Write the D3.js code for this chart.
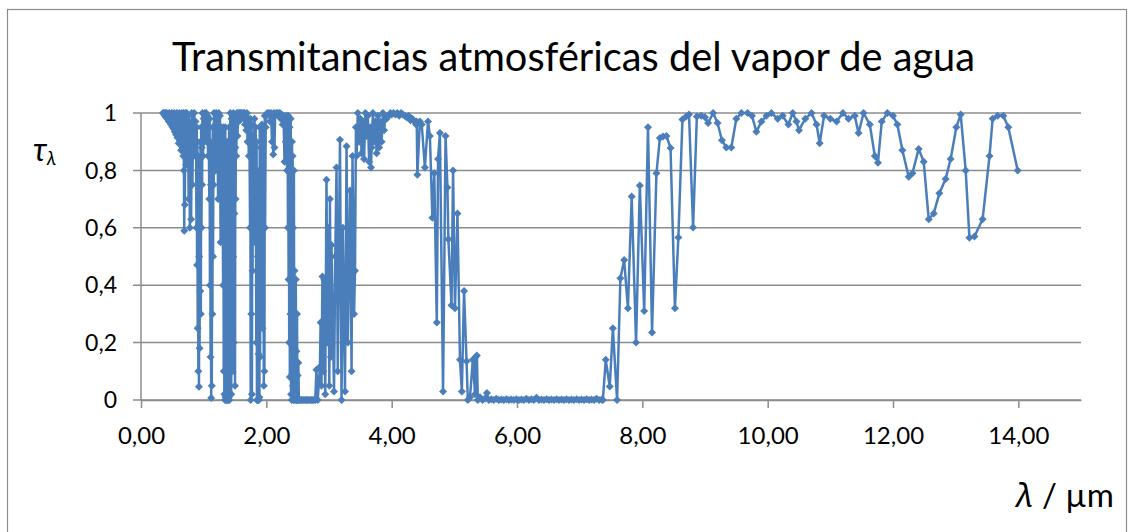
<!DOCTYPE html>
<html>
<head>
<meta charset="utf-8">
<script src="https://cdn.jsdelivr.net/npm/d3@7"></script>
<style>
  body { margin: 0; background: #fff; }
  text { font-family: Lato, "Open Sans", sans-serif; fill: #000; }
</style>
</head>
<body>
<svg id="chart" width="1134" height="532"></svg>
<script>
// Spectral data, [wavelength in µm, transmittance]
const visibleWindow = [
  [0.350,1.000],[0.360,0.998],[0.370,1.000],[0.380,0.990],[0.390,1.000],[0.400,0.985],[0.410,1.000],[0.420,0.980],
  [0.430,0.995],[0.440,0.972],[0.450,1.000],[0.460,0.968],[0.470,0.992],[0.480,0.960],[0.490,1.000],[0.500,0.952],
  [0.510,0.990],[0.520,0.945],[0.530,1.000],[0.540,0.935],[0.550,0.985],[0.560,0.925],[0.570,1.000],[0.580,0.915],
  [0.590,0.990],[0.600,0.895],[0.610,1.000],[0.620,0.905],[0.630,0.975],[0.640,0.870],[0.650,1.000],[0.660,0.880]
];
const band072 = [
  [0.670,0.970],[0.675,0.850],[0.680,1.000],[0.685,0.800],[0.690,0.590],[0.695,0.900],[0.700,0.680],[0.705,0.980],
  [0.710,0.860],[0.715,1.000],[0.720,0.820],[0.725,0.950],[0.730,1.000]
];
const band082 = [
  [0.740,0.900],[0.750,0.990],[0.760,0.700],[0.770,0.970],[0.780,0.600],[0.790,0.920],[0.800,0.630],[0.810,1.000],
  [0.820,0.750],[0.830,0.950],[0.840,0.850],[0.850,1.000],[0.860,0.900],[0.870,0.970]
];
const band094 = [
  [0.880,0.850],[0.885,0.600],[0.890,0.950],[0.895,0.470],[0.900,0.900],[0.905,0.250],[0.910,0.850],[0.915,0.100],
  [0.920,0.700],[0.925,0.046],[0.930,0.500],[0.935,0.180],[0.940,0.800],[0.945,0.380],[0.950,0.900],[0.955,0.300],
  [0.960,0.950],[0.965,0.600],[0.970,0.880],[0.975,0.750],[0.980,1.000],[0.990,0.850]
];
const window104 = [
  [1.000,0.980],[1.010,0.900],[1.020,1.000],[1.030,0.930],[1.040,1.000],[1.050,0.900],[1.060,0.990],[1.070,0.850],
  [1.080,0.950]
];
const band114 = [
  [1.090,0.700],[1.095,0.980],[1.100,0.400],[1.105,0.900],[1.110,0.150],[1.115,0.750],[1.120,0.007],[1.125,0.600],
  [1.130,0.050],[1.135,0.850],[1.140,0.300],[1.145,0.950],[1.150,0.500],[1.155,0.900],[1.160,0.750],[1.165,1.000],
  [1.170,0.850]
];
const window125 = [
  [1.180,0.950],[1.190,0.800],[1.200,1.000],[1.210,0.900],[1.220,0.980],[1.230,0.700],[1.240,1.000],[1.250,0.850],
  [1.260,0.990],[1.270,0.550],[1.280,0.950],[1.290,0.800],[1.300,0.900]
];
const band138 = [
  [1.310,0.400],[1.315,0.950],[1.320,0.100],[1.325,0.880],[1.330,0.020],[1.335,0.700],[1.340,0.000],[1.345,0.950],
  [1.350,0.010],[1.355,0.800],[1.360,0.000],[1.365,0.600],[1.370,0.000],[1.375,0.900],[1.380,0.000],[1.385,0.450],
  [1.390,0.000],[1.395,0.750],[1.400,0.010],[1.405,0.950],[1.410,0.000],[1.415,0.850],[1.420,0.050],[1.425,1.000],
  [1.430,0.200],[1.435,0.900],[1.440,0.020],[1.445,0.980],[1.450,0.300],[1.455,0.950],[1.460,0.100],[1.465,0.900],
  [1.470,0.500],[1.475,1.000],[1.480,0.200],[1.485,0.920],[1.490,0.650],[1.495,0.990],[1.500,0.050],[1.505,0.880],
  [1.510,0.700],[1.515,0.980],[1.520,0.850]
];
const window160 = [
  [1.530,1.000],[1.540,0.920],[1.550,1.000],[1.560,0.970],[1.570,1.000],[1.580,0.990],[1.590,1.000],[1.600,0.985],
  [1.610,1.000],[1.620,0.990],[1.630,1.000],[1.640,0.980],[1.650,1.000],[1.660,0.960],[1.670,0.995],[1.680,0.940],
  [1.690,1.000],[1.700,0.900],[1.710,0.980],[1.720,0.850],[1.730,0.950]
];
const band187 = [
  [1.740,0.600],[1.745,0.980],[1.750,0.000],[1.755,0.900],[1.760,0.300],[1.765,0.960],[1.770,0.020],[1.775,0.850],
  [1.780,0.450],[1.790,0.920],[1.800,0.700],[1.810,0.980],[1.820,0.550],[1.830,0.950],[1.840,0.200],[1.845,0.900],
  [1.850,0.000],[1.855,0.700],[1.860,0.000],[1.865,0.500],[1.870,0.000],[1.875,0.160],[1.880,0.000],[1.885,0.800],
  [1.890,0.010],[1.895,0.950],[1.900,0.150],[1.910,0.880],[1.920,0.400],[1.930,0.960],[1.940,0.250],[1.950,0.900],
  [1.960,0.050],[1.965,0.950],[1.970,0.100],[1.975,0.990],[1.980,0.600],[1.990,0.950]
];
const window220 = [
  [2.000,0.990],[2.015,1.000],[2.030,0.995],[2.045,1.000],[2.060,0.970],[2.075,1.000],[2.090,0.900],[2.100,0.990],
  [2.110,0.855],[2.120,1.000],[2.130,0.880],[2.140,0.990],[2.155,1.000],[2.170,0.995],[2.185,1.000],[2.200,0.990],
  [2.215,1.000],[2.230,0.980],[2.245,0.995],[2.260,0.960],[2.275,0.990],[2.290,0.830],[2.300,0.970],[2.310,0.900],
  [2.320,0.990],[2.330,0.800]
];
const band270 = [
  [2.340,0.950],[2.345,0.600],[2.350,0.990],[2.355,0.420],[2.360,0.900],[2.365,0.200],[2.370,0.950],[2.375,0.080],
  [2.380,0.800],[2.385,0.300],[2.390,0.980],[2.395,0.020],[2.400,0.700],[2.405,0.000],[2.410,0.900],[2.415,0.420],
  [2.420,0.850],[2.425,0.050],[2.430,0.600],[2.435,0.000],[2.440,0.800],[2.445,0.100],[2.450,0.450],[2.455,0.000],
  [2.460,0.300],[2.465,0.020],[2.470,0.420],[2.475,0.000],[2.480,0.170],[2.485,0.000],[2.490,0.300],[2.495,0.000],
  [2.500,0.085],[2.505,0.000],[2.510,0.130],[2.520,0.000],[2.540,0.000],[2.560,0.000],[2.580,0.000],[2.600,0.000],
  [2.620,0.000],[2.640,0.000],[2.660,0.000],[2.680,0.000],[2.700,0.000],[2.720,0.000],[2.740,0.000],[2.760,0.000],
  [2.780,0.000]
];
const band320 = [
  [2.800,0.105],[2.820,0.000],[2.855,0.116],[2.866,0.270],[2.880,0.050],[2.895,0.430],[2.910,0.100],[2.925,0.420],
  [2.940,0.020],[2.960,0.767],[2.975,0.200],[2.990,0.600],[3.005,0.050],[3.015,0.700],[3.030,0.150],[3.040,0.540],
  [3.060,0.300],[3.080,0.030],[3.100,0.500],[3.120,0.810],[3.140,0.100],[3.175,0.907],[3.200,0.000],[3.220,0.600],
  [3.255,0.030],[3.280,0.884],[3.300,0.200],[3.335,0.730],[3.360,0.100],[3.375,0.850],[3.400,0.300],[3.415,0.450],
  [3.430,0.950]
];
const window370 = [
  [3.440,0.850],[3.460,1.000],[3.480,0.900],[3.500,0.980],[3.520,0.860],[3.540,0.970],[3.560,0.840],[3.580,1.000],
  [3.600,0.920],[3.620,0.990],[3.640,0.830],[3.660,0.950],[3.670,0.810],[3.680,0.880],[3.700,1.000],[3.720,0.900],
  [3.740,0.970],[3.760,0.860],[3.780,0.990],[3.800,0.880],[3.820,0.970],[3.840,0.900],[3.860,1.000],[3.880,0.940],
  [3.900,0.990],[3.920,0.980],[3.950,0.990],[3.980,1.000],[4.000,0.995],[4.030,1.000],[4.060,0.995],[4.090,1.000],
  [4.120,0.990],[4.150,1.000],[4.180,0.995],[4.210,0.990],[4.240,0.985],[4.270,0.990],[4.300,0.975],[4.330,0.980],
  [4.360,0.970],[4.390,0.960]
];
const band470 = [
  [4.400,0.970],[4.410,0.785],[4.450,0.970],[4.480,0.960],[4.530,0.810],[4.580,0.970],[4.610,0.920],[4.650,0.635],
  [4.680,0.790],[4.720,0.270],[4.740,0.840],[4.770,0.930],[4.820,0.030],[4.860,0.920],[4.890,0.740],[4.905,0.560],
  [4.955,0.330],[4.980,0.800],[5.010,0.320],[5.050,0.650],[5.090,0.140],[5.120,0.030],[5.155,0.380],[5.195,0.135],
  [5.215,0.000],[5.250,0.010],[5.295,0.140],[5.330,0.020],[5.340,0.150],[5.360,0.155],[5.375,0.000],[5.410,0.010]
];
const band630 = [
  [5.450,0.000],[5.490,0.005],[5.520,0.024],[5.550,0.000],[5.590,0.003],[5.630,0.000],[5.670,0.004],[5.710,0.000],
  [5.750,0.002],[5.790,0.000],[5.830,0.003],[5.870,0.000],[5.910,0.002],[5.950,0.000],[5.990,0.003],[6.030,0.000],
  [6.070,0.002],[6.110,0.000],[6.150,0.004],[6.190,0.000],[6.230,0.003],[6.270,0.000],[6.310,0.008],[6.350,0.000],
  [6.390,0.002],[6.430,0.000],[6.470,0.003],[6.510,0.000],[6.550,0.002],[6.590,0.000],[6.630,0.003],[6.670,0.000],
  [6.710,0.002],[6.750,0.000],[6.790,0.003],[6.830,0.000],[6.870,0.002],[6.910,0.000],[6.950,0.003],[6.990,0.000],
  [7.030,0.002],[7.070,0.000],[7.110,0.003],[7.150,0.000],[7.190,0.002],[7.230,0.000],[7.270,0.004],[7.310,0.000],
  [7.350,0.002],[7.370,0.000]
];
const window8to9 = [
  [7.416,0.140],[7.480,0.047],[7.530,0.250],[7.597,0.000],[7.650,0.424],[7.710,0.488],[7.770,0.320],[7.830,0.709],
  [7.900,0.200],[7.960,0.747],[8.030,0.310],[8.090,0.950],[8.155,0.235],[8.225,0.790],[8.280,0.913],[8.330,0.918],
  [8.385,0.920],[8.450,0.878],[8.520,0.320],[8.575,0.566],[8.640,0.977],[8.700,0.988],[8.745,0.995],[8.810,0.601],
  [8.870,0.988],[8.940,0.990],[9.000,0.985],[9.050,0.965],[9.130,1.000],[9.200,0.965],[9.270,0.905],[9.340,0.880]
];
const window9to14 = [
  [9.420,0.880],[9.500,0.980],[9.580,1.000],[9.680,1.000],[9.750,0.990],[9.820,0.935],[9.900,0.970],[9.980,0.990],
  [10.060,1.000],[10.160,0.980],[10.240,0.990],[10.330,0.960],[10.400,1.000],[10.460,0.970],[10.500,0.940],
  [10.600,0.980],[10.700,1.000],[10.780,0.960],[10.830,0.895],[10.900,0.990],[11.000,0.980],[11.100,0.970],
  [11.200,1.000],[11.290,0.980],[11.390,0.990],[11.450,0.930],[11.530,1.000],[11.630,0.960],[11.710,0.850],
  [11.760,0.827],[11.820,0.970],[11.910,1.000],[12.000,0.990],[12.070,0.960],[12.150,0.870],[12.250,0.778],
  [12.310,0.790],[12.410,0.875],[12.490,0.830],[12.570,0.630],[12.650,0.650],[12.740,0.720],[12.840,0.770],
  [12.920,0.840],[13.010,0.950],[13.080,0.995],[13.160,0.800],[13.220,0.565],[13.300,0.570],[13.430,0.630],
  [13.540,0.850],[13.590,0.980],[13.670,0.990],[13.760,0.990],[13.840,0.950],[13.990,0.800]
];

const spectrum = [].concat(visibleWindow, band072, band082, band094, window104, band114, window125, band138,
  window160, band187, window220, band270, band320, window370, band470, band630, window8to9, window9to14);

const xTicks = [0, 2, 4, 6, 8, 10, 12, 14];
const yTicks = [0, 0.2, 0.4, 0.6, 0.8, 1];
const chartTitle = "Transmitancias atmosféricas del vapor de agua";

const svg = d3.select("#chart");
const blue = "#4A7EBB";
const gridColor = "#8C8C8C";

const x = d3.scaleLinear().domain([0, 15]).range([141, 1081]);
const y = d3.scaleLinear().domain([0, 1]).range([400, 113]);
const comma = s => s.replace(".", ",");

// outer chart border
svg.append("rect")
  .attr("x", 7.5).attr("y", 9.5)
  .attr("width", 1119).attr("height", 540)
  .attr("fill", "none")
  .attr("stroke", gridColor)
  .attr("stroke-width", 1.2);

// title
svg.append("text")
  .attr("x", 172).attr("y", 71)
  .attr("font-size", 40)
  .attr("textLength", 803)
  .attr("lengthAdjust", "spacingAndGlyphs")
  .text(chartTitle);

// horizontal gridlines (they also act as the y tick marks)
svg.append("g").selectAll("line")
  .data(yTicks)
  .enter().append("line")
  .attr("x1", 133).attr("x2", x(15))
  .attr("y1", d => y(d)).attr("y2", d => y(d))
  .attr("stroke", gridColor)
  .attr("stroke-width", 1.5);

// vertical axis line
svg.append("line")
  .attr("x1", x(0)).attr("x2", x(0))
  .attr("y1", y(1)).attr("y2", y(0))
  .attr("stroke", gridColor)
  .attr("stroke-width", 1.5);

// y tick labels
svg.append("g").selectAll("text")
  .data(yTicks)
  .enter().append("text")
  .attr("x", 117)
  .attr("y", d => y(d))
  .attr("dy", "0.36em")
  .attr("text-anchor", "end")
  .attr("font-size", 23)
  .text(d => comma(d3.format("")(+d.toFixed(1))));

// x axis
const xAxis = svg.append("g")
  .attr("transform", `translate(0,${y(0)})`)
  .call(d3.axisBottom(x)
    .tickValues(xTicks)
    .tickSizeInner(8)
    .tickSizeOuter(0)
    .tickFormat(d => comma(d3.format(".2f")(d))));
xAxis.select(".domain").attr("stroke", gridColor).attr("stroke-width", 1.5);
xAxis.selectAll(".tick line").attr("stroke", gridColor).attr("stroke-width", 1.5);
xAxis.selectAll(".tick text")
  .attr("y", 44).attr("dy", 0)
  .attr("font-size", 24)
  .attr("font-family", "Lato, 'Open Sans', sans-serif")
  .attr("fill", "#000");

// axis titles
const yTitle = svg.append("text").attr("x", 33).attr("y", 161)
  .attr("font-family", "'DejaVu Serif', serif").attr("font-size", 32);
yTitle.append("tspan").attr("font-style", "italic").text("τ");
yTitle.append("tspan").attr("font-style", "italic").attr("font-size", 19).attr("dy", 4).text("λ");

const xTitle = svg.append("text").attr("x", 1016).attr("y", 507).attr("font-size", 33);
xTitle.append("tspan").attr("font-style", "italic").attr("font-family", "'Noto Sans', sans-serif").text("λ");
xTitle.append("tspan").text(" / µm");

// the series: line then diamond markers
const line = d3.line().x(d => x(d[0])).y(d => y(d[1]));
svg.append("path")
  .datum(spectrum)
  .attr("d", line)
  .attr("fill", "none")
  .attr("stroke", blue)
  .attr("stroke-width", 2.5)
  .attr("stroke-linejoin", "round");

svg.append("g").selectAll("path")
  .data(spectrum)
  .enter().append("path")
  .attr("transform", d => `translate(${x(d[0])},${y(d[1])})`)
  .attr("d", "M0,-4L4,0L0,4L-4,0Z")
  .attr("fill", blue);
</script>
</body>
</html>
